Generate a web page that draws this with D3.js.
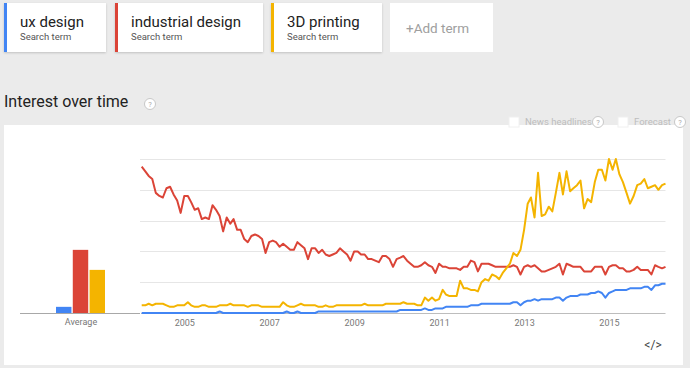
<!DOCTYPE html>
<html>
<head>
<meta charset="utf-8">
<script src="https://cdn.jsdelivr.net/npm/d3@7"></script>
<style>
  html, body { margin: 0; padding: 0; background: #ebebeb; }
  svg { display: block; font-family: Roboto, Arial, sans-serif; }
</style>
</head>
<body>
<div id="chart"></div>
<script>
const terms = ['ux design', 'industrial design', '3D printing'];
const colors = ['#4285f4', '#db4437', '#f4b400'];
const averages = [4, 41, 28];
const yearTicks = [2005, 2007, 2009, 2011, 2013, 2015];
const firstMonth = [2004, 0];

// monthly interest, Jan 2004 .. May 2016
const uxDesign = [
  0, 0, 0, 0, 0, 0, 0, 0, 0, 0, 0, 0, 0, 0, 0, 0, 0, 0, 0, 0, 0, 0, 1, 0, 0,
  0, 0, 0, 0, 0, 0, 0, 0, 0, 0, 0, 0, 0, 0, 0, 0, 1, 0, 0, 1, 0, 0, 0, 0, 0,
  1, 1, 1, 1, 1, 1, 1, 1, 1, 1, 1, 1, 1, 1, 1, 1, 1, 1, 1, 1, 1, 1, 1, 2, 2,
  2, 2, 2, 2, 2, 3, 2, 2, 3, 3, 3, 4, 4, 4, 4, 4, 4, 4, 5, 5, 5, 6, 6, 6, 6,
  6, 6, 6, 6, 6, 7, 7, 5, 7, 8, 8, 9, 8, 9, 9, 9, 9, 10, 10, 8, 10, 11, 11, 11,
  12, 12, 12, 13, 13, 14, 13, 10, 13, 14, 15, 15, 15, 15, 16, 16, 16, 16, 17, 17, 15, 18, 18, 19, 19,
];
const industrialDesign = [
  95, 92, 89, 87, 78, 76, 75, 81, 82, 77, 73, 65, 76, 76, 72, 67, 68, 61, 62, 61, 70, 67, 63, 53, 62,
  58, 61, 54, 54, 48, 46, 50, 51, 50, 48, 39, 46, 47, 46, 43, 45, 43, 41, 41, 46, 44, 42, 35, 42, 42,
  39, 41, 38, 37, 38, 39, 42, 40, 38, 34, 40, 40, 38, 38, 35, 35, 34, 33, 37, 37, 35, 30, 35, 36, 37,
  34, 32, 30, 30, 31, 33, 31, 30, 26, 32, 30, 30, 29, 29, 29, 28, 30, 30, 34, 33, 27, 32, 32, 32, 31,
  30, 30, 30, 30, 30, 31, 30, 25, 30, 31, 30, 31, 29, 27, 27, 28, 29, 30, 32, 25, 32, 31, 30, 30, 30,
  27, 27, 27, 30, 30, 30, 25, 30, 31, 31, 29, 29, 27, 27, 28, 30, 28, 28, 28, 25, 31, 30, 29, 30,
];
const printing3d = [
  5, 5, 6, 5, 6, 6, 6, 5, 4, 4, 5, 5, 5, 7, 5, 4, 4, 5, 5, 4, 4, 4, 5, 5, 5,
  6, 5, 5, 5, 5, 4, 5, 5, 5, 4, 4, 4, 4, 4, 4, 7, 5, 4, 4, 5, 6, 5, 5, 5, 5,
  4, 4, 5, 4, 4, 5, 5, 5, 5, 5, 5, 5, 5, 6, 5, 5, 5, 5, 5, 6, 6, 6, 6, 6, 7,
  6, 6, 6, 5, 5, 10, 8, 10, 8, 9, 15, 12, 11, 11, 11, 21, 16, 16, 15, 15, 14, 20, 22, 21, 25,
  24, 22, 26, 29, 32, 39, 37, 41, 54, 71, 75, 62, 91, 63, 64, 69, 66, 78, 91, 77, 92, 79, 81, 83, 86,
  68, 74, 72, 85, 93, 93, 86, 100, 93, 100, 90, 85, 78, 71, 76, 83, 84, 87, 81, 82, 83, 80, 83, 84,
];
const seriesValues = [uxDesign, industrialDesign, printing3d];

const width = 690;
const height = 368;

const monthDate = (i) => new Date(firstMonth[0], firstMonth[1] + i, 1);
const series = seriesValues.map((vals, k) => ({
  term: terms[k],
  color: colors[k],
  values: vals.map((v, i) => ({ date: monthDate(i), v })),
}));

const svg = d3.select('#chart').append('svg').attr('width', width).attr('height', height);

const defs = svg.append('defs');
const shadow = defs.append('filter').attr('id', 'shadow').attr('x', '-5%').attr('y', '-10%').attr('width', '110%').attr('height', '130%');
shadow.append('feDropShadow').attr('dx', 0).attr('dy', 1).attr('stdDeviation', 1).attr('flood-color', '#000').attr('flood-opacity', 0.18);

// term cards
const cardX = [4, 115, 271];
const cardW = [102, 148, 111];
terms.forEach((t, i) => {
  const g = svg.append('g').attr('transform', `translate(${cardX[i]}, 3)`);
  g.append('rect').attr('width', cardW[i]).attr('height', 49).attr('fill', '#fff').attr('filter', 'url(#shadow)');
  g.append('rect').attr('width', 3).attr('height', 49).attr('fill', colors[i]);
  g.append('text').attr('x', 16).attr('y', 24).attr('fill', '#222').style('font-size', '15px').text(t);
  g.append('text').attr('x', 16).attr('y', 37).attr('fill', '#555').style('font-size', '9.5px').text('Search term');
});
const addCard = svg.append('g').attr('transform', 'translate(390, 3)');
addCard.append('rect').attr('width', 103).attr('height', 49).attr('fill', '#fff');
addCard.append('text').attr('x', 16).attr('y', 30).attr('fill', '#9e9e9e').style('font-size', '13.5px').text('+Add term');

// section title
svg.append('text').attr('x', 4).attr('y', 107).attr('fill', '#222').style('font-size', '16px').text('Interest over time');

const helpIcon = (cx, cy) => {
  const g = svg.append('g').attr('transform', `translate(${cx}, ${cy})`);
  g.append('circle').attr('r', 5.5).attr('fill', '#fff').attr('stroke', '#c8c8c8');
  g.append('text').attr('y', 3).attr('text-anchor', 'middle').attr('fill', '#aaa').style('font-size', '7.5px').text('?');
};
helpIcon(150, 104);

// chart panel
svg.append('rect').attr('x', 4).attr('y', 125).attr('width', 679).attr('height', 240).attr('fill', '#fff');

// news / forecast toggles
svg.append('rect').attr('x', 509).attr('y', 117).attr('width', 10).attr('height', 10).attr('fill', '#fff').attr('stroke', '#f0f0f0');
svg.append('text').attr('x', 525).attr('y', 125).attr('fill', '#bdbdbd').style('font-size', '9.5px').text('News headlines');
helpIcon(598, 122);
svg.append('rect').attr('x', 618).attr('y', 117).attr('width', 10).attr('height', 10).attr('fill', '#fff').attr('stroke', '#f0f0f0');
svg.append('text').attr('x', 634).attr('y', 125).attr('fill', '#bdbdbd').style('font-size', '9.5px').text('Forecast');
helpIcon(680, 122);

// scales
const x = d3
  .scaleTime()
  .domain([series[0].values[0].date, series[0].values[series[0].values.length - 1].date])
  .range([141.7, 665.5]);
const y = d3.scaleLinear().domain([0, 100]).range([313, 159]);
const xBar = d3.scaleBand().domain(terms).range([56, 105]).paddingInner(0.08);

// gridlines
svg
  .append('g')
  .selectAll('line')
  .data([20, 40, 60, 80, 100])
  .join('line')
  .attr('x1', 140)
  .attr('x2', 665.5)
  .attr('y1', (d) => Math.round(y(d)) + 0.5)
  .attr('y2', (d) => Math.round(y(d)) + 0.5)
  .attr('stroke', '#e6e6e6');

// average bars
svg
  .append('line')
  .attr('x1', 20)
  .attr('x2', 140)
  .attr('y1', 313.5)
  .attr('y2', 313.5)
  .attr('stroke', '#a8a8a8');
svg
  .append('g')
  .selectAll('rect')
  .data(averages)
  .join('rect')
  .attr('x', (d, i) => xBar(terms[i]))
  .attr('y', (d) => y(d))
  .attr('width', xBar.bandwidth())
  .attr('height', (d) => y(0) - y(d))
  .attr('fill', (d, i) => colors[i]);
svg.append('text').attr('x', 81).attr('y', 325).attr('text-anchor', 'middle').attr('fill', '#777').style('font-size', '9px').text('Average');

// time axis
svg
  .append('line')
  .attr('x1', 141)
  .attr('x2', 665.5)
  .attr('y1', 313.5)
  .attr('y2', 313.5)
  .attr('stroke', '#bdbdbd');
const xAxis = d3
  .axisBottom(x)
  .tickValues(yearTicks.map((yr) => new Date(yr, 0, 1)))
  .tickSize(0)
  .tickPadding(7)
  .tickFormat(d3.timeFormat('%Y'));
const axisG = svg.append('g').attr('transform', 'translate(0, 313)').call(xAxis);
axisG.select('.domain').remove();
axisG.selectAll('text').attr('fill', '#777').style('font-size', '9px').style('font-family', 'Roboto, Arial, sans-serif');

// lines
const line = d3
  .line()
  .x((d) => x(d.date))
  .y((d) => y(d.v));
svg
  .append('g')
  .selectAll('path')
  .data(series)
  .join('path')
  .attr('fill', 'none')
  .attr('stroke', (d) => d.color)
  .attr('stroke-width', 2)
  .attr('stroke-linejoin', 'round')
  .attr('d', (d) => line(d.values));

// embed icon
svg.append('text').attr('x', 653).attr('y', 349).attr('text-anchor', 'middle').attr('fill', '#444').style('font-size', '12px').text('</>');
</script>
</body>
</html>
